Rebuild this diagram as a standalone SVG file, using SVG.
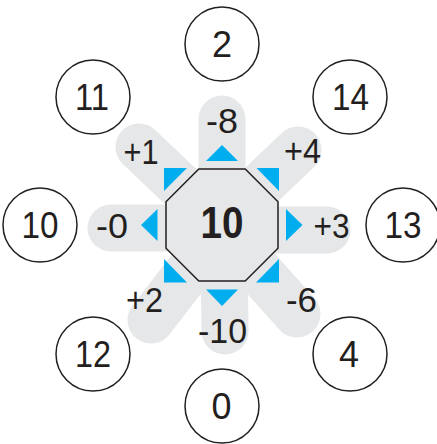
<svg xmlns="http://www.w3.org/2000/svg" width="437" height="444" viewBox="0 0 437 444">
<style>
.petal{stroke:#e6e7e8;stroke-width:47;stroke-linecap:round;fill:none}
.node{fill:#fff;stroke:#231f20;stroke-width:1.5}
.num{font-family:"Liberation Sans",Arial,sans-serif;font-size:37px;fill:#231f20;text-anchor:middle}
.lbl{font-family:"Liberation Sans",Arial,sans-serif;font-size:35px;fill:#231f20;text-anchor:middle}
.tri{fill:#00aeef}
</style>
<rect width="437" height="444" fill="#fff"/>
<g id="petals">
<line class="petal" x1="222" y1="225" x2="222" y2="119"/>
<line class="petal" x1="240" y1="205" x2="298" y2="150"/>
<line class="petal" x1="200" y1="205" x2="139" y2="147"/>
<line class="petal" x1="222" y1="228" x2="111" y2="228"/>
<line class="petal" x1="222" y1="230" x2="327" y2="230"/>
<line class="petal" x1="205" y1="250" x2="151" y2="320"/>
<line class="petal" x1="224" y1="250" x2="225" y2="331"/>
<line class="petal" x1="240" y1="250" x2="297" y2="314"/>
</g>
<g id="center">
<polygon points="198.8,169 245.2,169 278,201.8 278,248.2 245.2,281 198.8,281 166,248.2 166,201.8" fill="#e6e7e8" stroke="#231f20" stroke-width="1.5"/>
<text x="222" y="237.5" font-family="'Liberation Sans',Arial,sans-serif" font-size="44" font-weight="bold" fill="#231f20" text-anchor="middle" textLength="43" lengthAdjust="spacingAndGlyphs">10</text>
</g>
<g id="connectors">
<polygon class="tri" points="222,145 206,161 238,161"/>
<polygon class="tri" points="222,306 206,289.5 238,289.5"/>
<polygon class="tri" points="141,225 157.5,209 157.5,241"/>
<polygon class="tri" points="302.5,225 286,209 286,241"/>
<polygon class="tri" points="164,168 187,168 164,191"/>
<polygon class="tri" points="279,168 256.5,168 279,191"/>
<polygon class="tri" points="164,259 164,282.5 187,282.5"/>
<polygon class="tri" points="279,259 279,282.5 256,282.5"/>
<text class="lbl" x="222" y="133" textLength="32" lengthAdjust="spacingAndGlyphs">-8</text>
<text class="lbl" x="141" y="164" textLength="35" lengthAdjust="spacingAndGlyphs">+1</text>
<text class="lbl" x="302.5" y="163" textLength="37" lengthAdjust="spacingAndGlyphs">+4</text>
<text class="lbl" x="112" y="238" textLength="32" lengthAdjust="spacingAndGlyphs">-0</text>
<text class="lbl" x="331.5" y="238" textLength="36" lengthAdjust="spacingAndGlyphs">+3</text>
<text class="lbl" x="144.5" y="312" textLength="37" lengthAdjust="spacingAndGlyphs">+2</text>
<text class="lbl" x="301.5" y="312" textLength="31" lengthAdjust="spacingAndGlyphs">-6</text>
<text class="lbl" x="222.5" y="343" textLength="49" lengthAdjust="spacingAndGlyphs">-10</text>
</g>
<g id="n2"><circle class="node" cx="222" cy="44" r="37"/><text class="num" x="222" y="56.5" textLength="20" lengthAdjust="spacingAndGlyphs">2</text></g>
<g id="n14"><circle class="node" cx="350" cy="97" r="37"/><text class="num" x="350.5" y="109.5" textLength="37" lengthAdjust="spacingAndGlyphs">14</text></g>
<g id="n13"><circle class="node" cx="403" cy="225" r="37"/><text class="num" x="403" y="237.5" textLength="37" lengthAdjust="spacingAndGlyphs">13</text></g>
<g id="n4"><circle class="node" cx="350" cy="354" r="37"/><text class="num" x="349" y="366.5" textLength="20" lengthAdjust="spacingAndGlyphs">4</text></g>
<g id="n0"><circle class="node" cx="222" cy="406" r="37"/><text class="num" x="221.5" y="418.5" textLength="20" lengthAdjust="spacingAndGlyphs">0</text></g>
<g id="n12"><circle class="node" cx="93" cy="354" r="37"/><text class="num" x="93" y="366.5" textLength="36" lengthAdjust="spacingAndGlyphs">12</text></g>
<g id="n10"><circle class="node" cx="40" cy="225" r="37"/><text class="num" x="40" y="237.5" textLength="37" lengthAdjust="spacingAndGlyphs">10</text></g>
<g id="n11"><circle class="node" cx="93" cy="97" r="37"/><text class="num" x="92" y="109.5" textLength="34" lengthAdjust="spacingAndGlyphs">11</text></g>
</svg>
